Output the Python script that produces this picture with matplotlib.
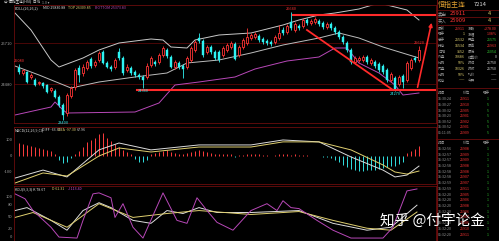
import numpy as np
import matplotlib
matplotlib.use('Agg')
import matplotlib.pyplot as plt

plt.rcParams['font.family'] = ['Noto Sans CJK SC', 'DejaVu Sans']

# ---- 日K线数据 ----
opens = [24960, 24810, 24840, 24690, 24600, 24510, 24510, 24450, 24300, 24270,
         24090, 23850, 23610, 24120, 24390, 24960, 24810, 24960, 25230, 25050,
         25200, 25440, 25110, 24990, 24990, 25440, 25260, 24900, 24960, 24840,
         24750, 24690, 24690, 25050, 25140, 25140, 25350, 25500, 25290, 24990,
         25110, 25020, 24990, 25200, 25500, 25860, 25770, 25440, 25590, 25440,
         25440, 25350, 25500, 25590, 25680, 25350, 25590, 25710, 25860, 25890,
         25920, 25830, 25770, 25740, 25740, 25860, 26100, 26040, 26340, 26100,
         26220, 26220, 26400, 26310, 26340, 26370, 26310, 26190, 26280, 26160,
         26040, 25890, 25710, 25500, 25140, 25200, 25200, 25290, 25110, 25140,
         25080, 25020, 24900, 24600, 24660, 24480, 24720, 24600, 24960, 25260,
         25200]
closes = [24840, 24900, 24540, 24750, 24450, 24540, 24420, 24240, 24360, 24090,
          23850, 23550, 24150, 24360, 24900, 24750, 24990, 25140, 25020, 25140,
          25410, 25110, 24990, 24930, 25200, 25260, 24810, 24990, 24810, 24750,
          24690, 24600, 25020, 25260, 25080, 25350, 25560, 25320, 24990, 25140,
          24990, 24930, 25260, 25560, 25740, 25770, 25350, 25590, 25440, 25260,
          25200, 25560, 25650, 25710, 25230, 25590, 25800, 25890, 25950, 25980,
          25800, 25740, 25710, 25680, 25890, 26010, 26010, 26220, 26160, 26280,
          26160, 26400, 26310, 26370, 26430, 26280, 26190, 26280, 26160, 26040,
          25890, 25740, 25500, 25140, 25260, 25260, 25290, 25140, 25200, 25020,
          24900, 24840, 24600, 24780, 24330, 24690, 24540, 25110, 25200, 25200,
          25500]
highs = [25080, 24930, 24870, 24810, 24660, 24570, 24540, 24480, 24390, 24330,
         24150, 23910, 24210, 24420, 24960, 25050, 25080, 25200, 25290, 25200,
         25470, 25500, 25170, 25050, 25260, 25560, 25320, 25080, 25020, 24900,
         24810, 24750, 25110, 25320, 25200, 25410, 25620, 25560, 25350, 25200,
         25170, 25080, 25320, 25620, 25800, 26010, 25830, 25650, 25650, 25500,
         25500, 25620, 25710, 25770, 25740, 25650, 25860, 26160, 26010, 26040,
         25980, 25890, 25830, 25800, 25950, 26250, 26190, 26280, 26640, 26340,
         26280, 26460, 26460, 26430, 26490, 26430, 26370, 26340, 26340, 26220,
         26100, 25950, 25770, 25560, 25320, 25320, 25350, 25350, 25260, 25200,
         25140, 25080, 24960, 24840, 24720, 24750, 24780, 25170, 25260, 25320,
         25620]
lows = [24780, 24750, 24510, 24630, 24420, 24450, 24360, 24210, 24240, 24060,
        23790, 23400, 23520, 24060, 24300, 24540, 24720, 24900, 24960, 24990,
        25140, 25080, 24960, 24870, 24930, 25200, 24750, 24840, 24750, 24690,
        24630, 24360, 24630, 24990, 25020, 25080, 25290, 25260, 24960, 24930,
        24930, 24660, 24930, 25140, 25440, 25710, 25290, 25380, 25380, 25200,
        25140, 25290, 25440, 25530, 25200, 25290, 25530, 25650, 25800, 25830,
        25740, 25680, 25650, 25620, 25680, 25800, 25950, 25980, 26100, 26040,
        26100, 26160, 26250, 26250, 26280, 26220, 26130, 26130, 26100, 25980,
        25830, 25680, 25440, 25080, 25080, 25140, 25140, 25080, 25050, 24960,
        24840, 24780, 24540, 24540, 24270, 24420, 24360, 24540, 24900, 25140,
        25140]

# 布林带 (读图取点)
boll_up_idx = [-1, 3, 8, 10, 16, 20, 25, 33, 36, 38, 42, 44, 50, 58, 66, 70, 75, 79, 85, 90, 97, 100]
boll_up = [26610, 26100, 25200, 24990, 25260, 25500, 25710, 25830, 25800, 25590, 25560,
           25800, 25950, 26010, 26250, 26400, 26550, 26610, 26730, 26910, 26700, 26400]
boll_mid_idx = [-1, 5, 13, 20, 29, 37, 42, 50, 58, 66, 75, 80, 85, 91, 100]
boll_mid = [25020, 24750, 24360, 24540, 24690, 24810, 25110, 25200, 25410, 25650,
            25860, 26010, 25860, 25590, 25260]
boll_low_idx = [-1, 8, 9, 11, 12, 29, 35, 39, 45, 54, 59, 67, 75, 79, 82, 85, 90, 94, 96, 100]
boll_low = [23550, 23790, 23940, 23700, 23610, 23640, 23910, 24450, 24540, 24690,
            24930, 25170, 25290, 25560, 25560, 25110, 24810, 24450, 24150, 24210]

# 画线
support_level = 24300
support_from = 29.5
resist_level = 26550
resist_from = 68.5
trend_line = [(72, 26100), (93.5, 24300)]
arrow_line = [(99.5, 24300), (103.3, 26400)]
marks = [(0, 'high'), (11, 'low'), (31, 'low'), (68, 'high'), (94, 'low'), (100, 'high')]

# MACD
macd_hist = [81, 75, 70, 62, 56, 50, 44, 38, 30, 15,
             -25, -45, -40, -10, 15, 31, 55, 87, 100, 115,
             140, 144, 112, 95, 75, 56, 40, 25, 10, -20,
             -35, -40, -25, 10, 20, 25, 30, 35, 25, 20,
             15, 12, 18, 25, 30, 35, 30, 25, 20, 15,
             10, 12, 15, 10, -8, 5, 8, 12, 15, 15,
             12, 8, 5, 3, 6, 10, 12, 10, 8, 10,
             8, 6, 5, 3, 2, -3, -5, -8, -15, -25,
             -40, -55, -70, -80, -90, -95, -95, -90, -88, -85,
             -80, -72, -70, -65, -60, -50, -40, 20, 30, 45,
             65]
macd_idx = [-1, 6, 12, 20, 25, 33, 45, 58, 66, 75, 83, 91, 94, 97, 100]
diff_vals = [-138, -88, -131, 38, 81, 38, 69, 69, 100, 88, -6, -88, -131, -119, -63]
dea_vals = [-169, -106, -125, 0, 50, 25, 56, 56, 88, 88, 38, -56, -100, -113, -94]

# KDJ
k_idx = [-1, 2, 8, 12, 16, 20, 23, 28.5, 33, 37, 41, 45, 49.5, 58, 70, 78.5, 87, 93, 99.5]
k_vals = [65, 72.5, 40, 15, 65, 85, 72.5, 40, 32.5, 65, 57.5, 72.5, 60, 60, 65, 32.5, 15, 22.5, 78.7]
d_idx = [-1, 3.5, 12, 20, 28.5, 37, 45, 58, 70, 78.5, 87, 93, 99.5]
d_vals = [47.5, 60, 22.5, 82.5, 47.5, 57.5, 65, 55, 62.5, 40, 20, 15, 61.3]
j_idx = [-1, 1.5, 3.5, 8, 10, 14.5, 16, 18.5, 20, 23, 24, 26, 28.5, 31, 36, 39.5, 42,
         44.5, 47, 49.5, 53.5, 58, 62, 64.5, 66, 68, 70, 74.5, 78.5, 83, 91, 93.5, 97, 99.5]
j_vals = [107.5, 95, 65, 22.5, -2.5, -5, 40, 107.5, 110, 97.5, 47.5, 82.5, 22.5, -5, 110, 40, 32.5,
          97.5, 65, 35, 15, 65, 82.5, 65, 90, 72.5, 70, 40, 15, -5, -5, 22.5, 115, 120]

# 右侧盘口
quote_l1 = ['最新', '现手', '总手', '持仓', '日增', '外盘', '比例', '内盘', '比例', '轮仓']
quote_v1 = ['25911', '1', '25532', '16534', '3652', '10686', '50%', '10326', '50%', '——']
quote_l2 = ['涨跌', '涨幅', '开盘', '最高', '最低', '结算价', '昨结', '昨收', '均价', '今开']
quote_v2 = ['+278.00', '1.08%', '25575', '25963', '25054', '0', '25750', '25750', '——', '——']
quote_c2 = ['r', 'r', 'g', 'r', 'g', 'w', 'w', 'w', 'w', 'w']
tick_t1 = ['15:30:24', '15:30:27', '15:30:32', '15:30:23', '15:30:52', '15:30:52', '05:11:05']
tick_p1 = ['25911', '25910', '25905', '25901', '25902', '25901', '25909']
tick_v1 = ['1', '5', '5', '5', '5', '5', '5']
tick_t2 = ['15:32:56', '15:32:57', '15:32:57', '15:32:58', '15:32:58', '15:32:58', '15:32:59', '15:32:59',
           '15:32:20', '15:32:20', '15:32:20', '15:32:20', '15:32:20', '15:32:20', '15:32:20', '05:32:20']
tick_p2 = ['25908', '25909', '25909', '25908', '25908', '25907', '25907', '25911',
           '25905', '25906', '25908', '25906', '25907', '25906', '25910', '25911']
tick_v2 = ['1'] * 16

RED = '#ff3434'
LINE_RED = '#ff2a2a'
CYAN = '#2ef2f2'
DARK = '#6a0c0c'
GRAY = '#9a9a9a'
WHITE = '#dcdcdc'
YELLOW = '#e0d070'
PURPLE = '#b848b8'
GREEN = '#30c030'

W, H = 499, 241
fig = plt.figure(figsize=(W / 100, H / 100), dpi=100, facecolor='black')


def add_ax(x0, y0, x1, y1, z=1):
    ax = fig.add_axes([x0 / W, 1 - y1 / H, (x1 - x0) / W, (y1 - y0) / H], zorder=z)
    ax.set_facecolor('black')
    for s in ax.spines.values():
        s.set_color(DARK)
        s.set_linewidth(0.6)
    ax.set_xticks([])
    ax.tick_params(axis='y', colors=GRAY, labelsize=3, length=0, pad=1)
    return ax


xl = (-1.25, 104.26)
x = np.arange(len(opens))
o = np.array(opens); c = np.array(closes); h = np.array(highs); l = np.array(lows)
up = c >= o

# ---- 主图 ----
ax = add_ax(14, 5, 436, 123)
ax.set_xlim(*xl)
ax.set_ylim(23310, 26850)
ax.set_yticks([24480, 25710])
for v in [24480, 25710]:
    ax.axhline(v, color='#550808', lw=0.6, zorder=0)
ax.vlines(x[up], l[up], h[up], color=RED, lw=0.6, zorder=2)
ax.vlines(x[~up], l[~up], h[~up], color=CYAN, lw=0.6, zorder=2)
ax.bar(x[up], c[up] - o[up], bottom=o[up], width=0.72, facecolor='black',
       edgecolor=RED, lw=0.6, zorder=3)
ax.bar(x[~up], o[~up] - c[~up], bottom=c[~up], width=0.72, color=CYAN,
       edgecolor=CYAN, lw=0.3, zorder=3)
ax.plot(boll_up_idx, boll_up, color='#c8c8c8', lw=0.7, zorder=1)
ax.plot(boll_mid_idx, boll_mid, color='#bcbcbc', lw=0.7, zorder=1)
ax.plot(boll_low_idx, boll_low, color=PURPLE, lw=0.7, zorder=1)

ax.plot([support_from, xl[1]], [support_level, support_level], color=LINE_RED, lw=1.5, zorder=4)
ax.plot([resist_from, xl[1]], [resist_level, resist_level], color=LINE_RED, lw=1.5, zorder=4)
ax.plot([p[0] for p in trend_line], [p[1] for p in trend_line], color=LINE_RED, lw=1.3, zorder=4)
ax.annotate('', xy=arrow_line[1], xytext=arrow_line[0], annotation_clip=False,
            arrowprops=dict(arrowstyle='-|>', color=LINE_RED, lw=1.2, mutation_scale=5))

for i, kind in marks:
    if kind == 'high':
        ax.text(i, highs[i] + 40, str(highs[i]), color=RED, fontsize=2.8,
                ha='center', va='bottom', zorder=5)
    else:
        ax.text(i, lows[i] - 40, str(lows[i]), color=CYAN, fontsize=2.8,
                ha='center', va='top', zorder=5, clip_on=False)

# ---- MACD ----
ax2 = add_ax(14, 127, 436, 184)
ax2.set_xlim(*xl)
ax2.set_ylim(-175, 181)
ax2.set_yticks([100, 0, -100])
ax2.set_yticklabels(['100', '0', '-100'])
hist = np.array(macd_hist)
ax2.vlines(x[hist >= 0], 0, hist[hist >= 0], color='#ff3c3c', lw=0.7)
ax2.vlines(x[hist < 0], 0, hist[hist < 0], color='#30e0e0', lw=0.7)
ax2.plot(macd_idx, diff_vals, color=WHITE, lw=0.7)
ax2.plot(macd_idx, dea_vals, color=YELLOW, lw=0.7)

# ---- KDJ ----
ax3 = add_ax(14, 186, 436, 241)
ax3.set_xlim(*xl)
ax3.set_ylim(-12.5, 127.5)
ax3.set_yticks([0, 20, 50, 80, 100])
ax3.plot(k_idx, k_vals, color=WHITE, lw=0.7)
ax3.plot(d_idx, d_vals, color=YELLOW, lw=0.7)
ax3.plot(j_idx, j_vals, color=PURPLE, lw=0.7)

# ---- 右侧盘口 ----
rp = fig.add_axes([436 / W, 0, 63 / W, 1], zorder=2)
rp.set_facecolor('black')
rp.set_xlim(436, 499)
rp.set_ylim(241, 0)
rp.axis('off')
rp.axvline(436.5, color=DARK, lw=0.8)
for yy in [9.5, 17, 25, 88, 139]:
    rp.axhline(yy, color=DARK, lw=0.6)
rp.text(438, 5, '恒指主连', color='#e0a030', fontsize=5, va='center')
rp.text(474, 5, '7214', color=WHITE, fontsize=4.2, va='center')
rp.text(438, 13.3, '卖出', color=GRAY, fontsize=3.2, va='center')
rp.text(450, 13.3, '25911', color=RED, fontsize=4.2, va='center')
rp.text(488, 13.3, '4', color=YELLOW, fontsize=4, va='center')
rp.text(438, 21, '买入', color=GRAY, fontsize=3.2, va='center')
rp.text(450, 21, '25909', color=RED, fontsize=4.2, va='center')
rp.text(488, 21, '4', color=YELLOW, fontsize=4, va='center')
cmap = {'r': RED, 'g': GREEN, 'w': WHITE}
for k in range(len(quote_l1)):
    yy = 28.5 + 5.8 * k
    rp.text(438, yy, quote_l1[k], color=GRAY, fontsize=2.6, va='center')
    rp.text(465, yy, quote_v1[k], color=RED if k == 0 else YELLOW, fontsize=2.6,
            va='center', ha='right')
    rp.text(468, yy, quote_l2[k], color=GRAY, fontsize=2.6, va='center')
    rp.text(497, yy, quote_v2[k], color=cmap[quote_c2[k]], fontsize=2.6,
            va='center', ha='right')
for yy in [92.5, 143]:
    rp.text(438, yy, '时间', color=GRAY, fontsize=2.6, va='center')
    rp.text(463, yy, '价位', color=GRAY, fontsize=2.6, va='center')
    rp.text(483, yy, '现手', color=GRAY, fontsize=2.6, va='center')
for k in range(len(tick_t1)):
    yy = 99.5 + 5.6 * k
    rp.text(438, yy, tick_t1[k], color=GRAY, fontsize=2.6, va='center')
    rp.text(470, yy, tick_p1[k], color=RED, fontsize=2.6, va='center', ha='right')
    rp.text(487, yy, tick_v1[k], color=GREEN, fontsize=2.6, va='center')
for k in range(len(tick_t2)):
    yy = 149 + 5.7 * k
    rp.text(438, yy, tick_t2[k], color=GRAY, fontsize=2.6, va='center')
    rp.text(470, yy, tick_p2[k], color=RED, fontsize=2.6, va='center', ha='right')
    rp.text(487, yy, tick_v2[k], color=GREEN, fontsize=2.6, va='center')

# ---- 顶部标题 / 指标说明 / 水印 ----
ov = fig.add_axes([0, 0, 1, 1], zorder=10)
ov.set_xlim(0, W)
ov.set_ylim(H, 0)
ov.axis('off')
ov.patch.set_alpha(0)
ov.text(4, 2.5, '⇔ 恒指主连(HSI)  日线', color=WHITE, fontsize=2.6, va='center')
ov.text(42, 2.5, '1.0 ▾', color=GRAY, fontsize=2.6, va='center')
ov.text(15, 8, 'BOLL(26,26,2)', color=WHITE, fontsize=2.6, va='center')
ov.text(43, 8, 'MID 25830.88', color=WHITE, fontsize=2.6, va='center')
ov.text(68, 8, 'TOP 26309.85', color=YELLOW, fontsize=2.6, va='center')
ov.text(95, 8, 'BOTTOM 25373.83', color=PURPLE, fontsize=2.6, va='center')
ov.text(15, 130, 'MACD(12,26,9,Cl)', color=WHITE, fontsize=2.6, va='center')
ov.text(42, 130, 'DIFF -63.33', color=WHITE, fontsize=2.6, va='center')
ov.text(58, 130, 'DEA -97.30', color=YELLOW, fontsize=2.6, va='center')
ov.text(77, 130, '67.96', color=WHITE, fontsize=2.6, va='center')
ov.text(15, 189, 'KDJ(9,3,3) K 78.67', color=WHITE, fontsize=2.6, va='center')
ov.text(52, 189, 'D 61.31', color=YELLOW, fontsize=2.6, va='center')
ov.text(68, 189, 'J 113.40', color='#d050e0', fontsize=2.6, va='center')
ov.text(432, 220, '知乎 @付宇论金', color='white', fontsize=10.5, ha='center', va='center',
        family=['Noto Sans CJK SC', 'DejaVu Sans'])

fig.savefig('out.png', dpi=100, facecolor='black')
